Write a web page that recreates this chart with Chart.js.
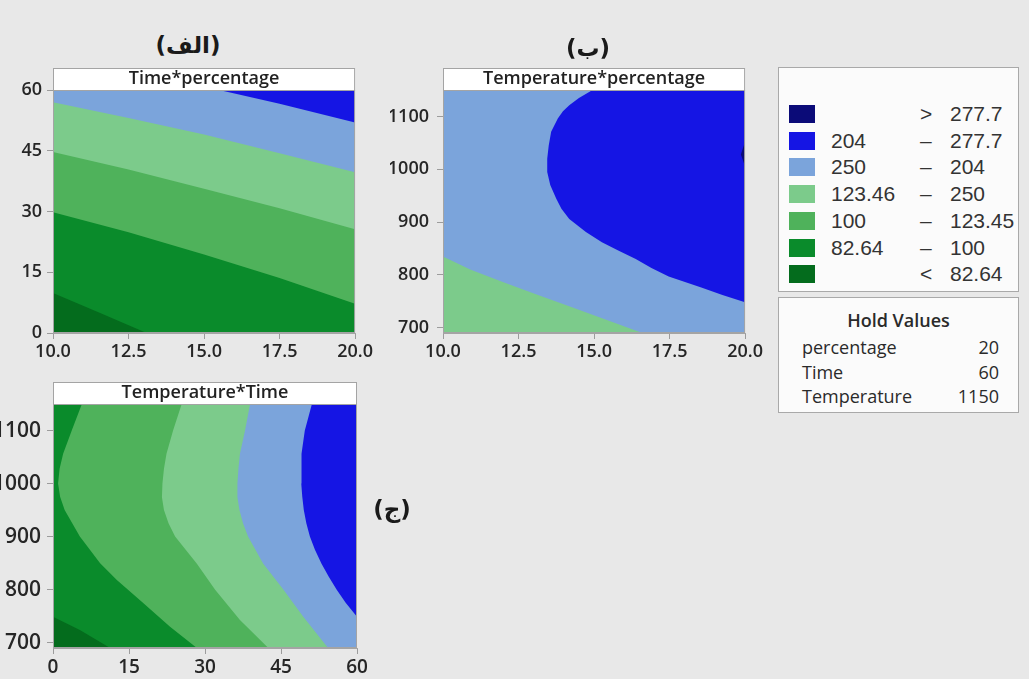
<!DOCTYPE html>
<html>
<head>
<meta charset="utf-8">
<script src="https://cdn.jsdelivr.net/npm/chart.js@4.4.1/dist/chart.umd.min.js"></script>
<style>
html, body { margin: 0; padding: 0; }
body { width: 1029px; height: 679px; background: #e8e8e8; position: relative; overflow: hidden; font-family: 'Open Sans', sans-serif; color: #333; }
canvas { position: absolute; }
.tag { position: absolute; font: bold 23px 'DejaVu Sans', sans-serif; color: #1a1a1a; transform: translate(-50%, -50%); white-space: nowrap; }
.box { position: absolute; background: #fbfbfb; border: 1px solid #a9a9a9; box-sizing: border-box; }
.sw { position: absolute; left: 10px; width: 26px; height: 18px; }
.lg { position: absolute; font: 21px 'Liberation Sans', Arial, sans-serif; color: #333; line-height: 21px; }
.hv { position: absolute; font: 500 18px 'Open Sans', sans-serif; color: #2a2a2a; line-height: 22px; }
</style>
</head>
<body>
<canvas id="pA" width="375" height="320" style="left:0px;top:60px"></canvas>
<canvas id="pB" width="375" height="320" style="left:390px;top:60px"></canvas>
<canvas id="pC" width="385" height="305" style="left:-10px;top:374px"></canvas>

<div class="tag" dir="rtl" style="left:188px;top:45px">(الف)</div>
<div class="tag" dir="rtl" style="left:588px;top:48px">(ب)</div>
<div class="tag" dir="rtl" style="left:392px;top:509px">(ج)</div>

<div class="box" id="legend" style="left:778px;top:67px;width:241px;height:225px"></div>
<div class="box" id="hold" style="left:778px;top:297px;width:241px;height:116px"></div>

<script>
// contour bands, lowest to highest
const bandColors = ['#046c1d', '#0a8b2b', '#4fb25b', '#7ccb8b', '#7ba4db', '#1515e4', '#0b0b78'];

// legend rows, top to bottom
const legendColors = ['#0b0b78', '#1515e4', '#7ba4db', '#7ccb8b', '#4fb25b', '#0a8b2b', '#046c1d'];
const legendLow = ['', '204', '250', '123.46', '100', '82.64', ''];
const legendSym = ['>', '–', '–', '–', '–', '–', '<'];
const legendHigh = ['277.7', '277.7', '204', '250', '123.45', '100', '82.64'];

const holdNames = ['percentage', 'Time', 'Temperature'];
const holdVals = ['20', '60', '1150'];

const pctTicks = [10, 12.5, 15, 17.5, 20];
const timeTicks = [0, 15, 30, 45, 60];
const tempTicks = [700, 800, 900, 1000, 1100];
const pctRange = [10, 20];
const timeRange = [0, 60];
const tempRange = [690, 1150];

// (الف) Time*percentage : Time on each contour edge
const aEdge1Pct = [10, 11.6, 13.1, 20];
const aEdge1Time = [9.9, 4.8, 0, 0];
const aEdge2Pct = [10, 12.5, 15, 17.5, 20];
const aEdge2Time = [29.8, 24.9, 19.4, 13.6, 7.2];
const aEdge3Pct = [10, 12.5, 15, 17.5, 20];
const aEdge3Time = [44.7, 40.4, 35.6, 30.8, 25.6];
const aEdge4Pct = [10, 12.5, 15, 17.5, 20];
const aEdge4Time = [57, 53.1, 49, 44.4, 39.7];
const aEdge5Pct = [15.5, 17.5, 20];
const aEdge5Time = [60, 56.6, 52];

// (ب) Temperature*percentage : percentage on each contour edge
const bGreenTemp = [690, 715, 740, 763, 786, 810, 835];
const bGreenPct = [16.6, 15.4, 14.2, 13.1, 12.0, 10.9, 10];
const bBlueTemp = [748, 762, 776, 797, 813, 830, 846, 862, 881, 906, 925, 944, 970, 995, 1020, 1045, 1071, 1096, 1110, 1121, 1135, 1150];
const bBluePct = [20, 19.25, 18.55, 17.47, 16.9, 16.38, 15.8, 15.26, 14.73, 14.18, 13.92, 13.75, 13.55, 13.45, 13.45, 13.5, 13.58, 13.8, 13.97, 14.18, 14.5, 14.95];
const bNavyTemp = [1005, 1028, 1052];
const bNavyPct = [20, 19.86, 20];

// (ج) Temperature*Time : Time on each contour edge
const cEdge1Temp = [690, 724, 749, 1150];
const cEdge1Time = [11.3, 5.3, 0, 0];
const cEdge2Temp = [690, 730, 775, 818, 850, 900, 950, 975, 1000, 1028, 1056, 1100, 1150];
const cEdge2Time = [28.4, 23.1, 17.8, 12.6, 9.3, 5.3, 2.3, 1.4, 1.0, 1.3, 2.0, 3.7, 5.7];
const cEdge3Temp = [690, 743, 800, 849, 900, 925, 950, 974, 1000, 1028, 1056, 1100, 1150];
const cEdge3Time = [42.5, 36.9, 32.0, 28.4, 24.1, 22.8, 21.9, 21.5, 21.6, 21.9, 22.4, 23.7, 25.4];
const cEdge4Temp = [690, 749, 800, 849, 900, 925, 950, 974, 1000, 1028, 1056, 1100, 1150];
const cEdge4Time = [54.3, 49.4, 45.5, 41.5, 38.5, 37.5, 36.8, 36.4, 36.4, 36.6, 36.9, 37.9, 38.9];
const cEdge5Temp = [749, 775, 800, 825, 849, 875, 900, 925, 950, 975, 1000, 1028, 1056, 1100, 1150];
const cEdge5Time = [60, 57.8, 56.0, 54.4, 53.0, 51.7, 50.7, 50.0, 49.5, 49.2, 49.0, 49.0, 49.1, 49.7, 51.1];

// region above an edge y = f(x)
function upRegion(xs, ys, top) {
	const pts = xs.map((x, i) => ({x: x, y: ys[i]}));
	pts.push({x: xs[xs.length - 1], y: top}, {x: xs[0], y: top});
	return pts;
}

// region beside an edge x = f(temperature), closed at the given x
function sideRegion(xs, temps, side) {
	const pts = xs.map((x, i) => ({x: x, y: temps[i]}));
	pts.push({x: side, y: temps[temps.length - 1]}, {x: side, y: temps[0]});
	return pts;
}

function fullRegion(xr, yr) {
	return [{x: xr[0], y: yr[0]}, {x: xr[1], y: yr[0]}, {x: xr[1], y: yr[1]}, {x: xr[0], y: yr[1]}];
}

function band(points, color, order) {
	return {
		data: points,
		backgroundColor: color,
		borderWidth: 0,
		pointRadius: 0,
		pointHoverRadius: 0,
		fill: 'shape',
		order: order
	};
}

// white title strip and thin frame, like the Minitab panels
const panelFrame = {
	id: 'panelFrame',
	afterDraw(chart, args, opts) {
		const {ctx, chartArea: a} = chart;
		ctx.save();
		ctx.fillStyle = '#ffffff';
		ctx.fillRect(a.left, a.top - 22, a.right - a.left, 22);
		ctx.strokeStyle = '#a4a4a4';
		ctx.lineWidth = 1;
		ctx.strokeRect(a.left + 0.5, a.top - 22 + 0.5, a.right - a.left - 1, 22);
		ctx.strokeRect(a.left + 0.5, a.top + 0.5, a.right - a.left - 1, a.bottom - a.top - 1);
		ctx.fillStyle = '#222';
		ctx.font = '600 18px "Open Sans"';
		ctx.textAlign = 'center';
		ctx.textBaseline = 'middle';
		ctx.fillText(opts.text, (a.left + a.right) / 2, a.top - 11);
		ctx.restore();
	}
};

function axis(range, ticks, fmt, size, isX, pad, fontSize) {
	return {
		type: 'linear',
		min: range[0],
		max: range[1],
		afterBuildTicks: function(s) {
			s.ticks = ticks.map(v => ({value: v}));
		},
		afterFit: function(s) {
			if (isX) {
				s.height = size;
			} else {
				s.width = size;
			}
		},
		grid: {drawOnChartArea: false, drawTicks: true, tickLength: 6, color: '#9c9c9c'},
		border: {display: true, color: '#a4a4a4'},
		ticks: {
			padding: pad,
			color: '#262626',
			maxRotation: 0,
			autoSkip: false,
			font: {family: 'Open Sans', size: fontSize, weight: '600'},
			callback: fmt
		}
	};
}

function panelMake(bind, title, datasets, xAxis, yAxis, pad) {
	return new Chart(document.getElementById(bind), {
		type: 'line',
		data: {datasets: datasets},
		plugins: [panelFrame],
		options: {
			responsive: false,
			animation: false,
			events: [],
			layout: {padding: pad},
			scales: {x: xAxis, y: yAxis},
			plugins: {
				legend: {display: false},
				tooltip: {enabled: false},
				panelFrame: {text: title}
			}
		}
	});
}

const fmt1 = v => Number(v).toFixed(1);
const fmt0 = v => String(v);

panelMake('pA', 'Time*percentage', [
	band(fullRegion(pctRange, timeRange), bandColors[0], 10),
	band(upRegion(aEdge1Pct, aEdge1Time, 60), bandColors[1], 9),
	band(upRegion(aEdge2Pct, aEdge2Time, 60), bandColors[2], 8),
	band(upRegion(aEdge3Pct, aEdge3Time, 60), bandColors[3], 7),
	band(upRegion(aEdge4Pct, aEdge4Time, 60), bandColors[4], 6),
	band(upRegion(aEdge5Pct, aEdge5Time, 60), bandColors[5], 5)
], axis(pctRange, pctTicks, fmt1, 47, true, 2, 18), axis(timeRange, timeTicks, fmt0, 53, false, 5, 18),
	{top: 30, right: 18, left: 0, bottom: 0});

panelMake('pB', 'Temperature*percentage', [
	band(fullRegion(pctRange, tempRange), bandColors[4], 10),
	band(sideRegion(bGreenPct, bGreenTemp, 10), bandColors[3], 9),
	band(sideRegion(bBluePct, bBlueTemp, 20), bandColors[5], 8),
	band(sideRegion(bNavyPct, bNavyTemp, 20), bandColors[6], 7)
], axis(pctRange, pctTicks, fmt1, 47, true, 2, 18), axis(tempRange, tempTicks, fmt0, 53, false, 8, 18),
	{top: 30, right: 18, left: 0, bottom: 0});

panelMake('pC', 'Temperature*Time', [
	band(fullRegion(timeRange, tempRange), bandColors[0], 10),
	band(sideRegion(cEdge1Time, cEdge1Temp, 60), bandColors[1], 9),
	band(sideRegion(cEdge2Time, cEdge2Temp, 60), bandColors[2], 8),
	band(sideRegion(cEdge3Time, cEdge3Temp, 60), bandColors[3], 7),
	band(sideRegion(cEdge4Time, cEdge4Temp, 60), bandColors[4], 6),
	band(sideRegion(cEdge5Time, cEdge5Temp, 60), bandColors[5], 5)
], axis(timeRange, timeTicks, fmt0, 31, true, 2, 19), axis(tempRange, tempTicks, fmt0, 63, false, 6, 21),
	{top: 30, right: 18, left: 0, bottom: 0});

// legend box
const legendEl = document.getElementById('legend');
let html = '';
for (let i = 0; i < legendColors.length; i++) {
	const top = 37 + i * 26.7;
	html += '<div class="sw" style="top:' + top + 'px;background:' + legendColors[i] + '"></div>';
	html += '<div class="lg" style="left:52px;top:' + (top - 2) + 'px">' + legendLow[i] + '</div>';
	html += '<div class="lg" style="left:141px;top:' + (top - 2) + 'px">' + legendSym[i] + '</div>';
	html += '<div class="lg" style="left:171px;top:' + (top - 2) + 'px">' + legendHigh[i] + '</div>';
}
legendEl.innerHTML = html;

// hold values box
const holdEl = document.getElementById('hold');
let hv = '<div class="hv" style="left:0;width:239px;text-align:center;top:11px;font-weight:600">Hold Values</div>';
for (let i = 0; i < holdNames.length; i++) {
	const top = 38 + i * 24.5;
	hv += '<div class="hv" style="left:23px;top:' + top + 'px">' + holdNames[i] + '</div>';
	hv += '<div class="hv" style="right:19px;top:' + top + 'px;text-align:right">' + holdVals[i] + '</div>';
}
holdEl.innerHTML = hv;
</script>
</body>
</html>
